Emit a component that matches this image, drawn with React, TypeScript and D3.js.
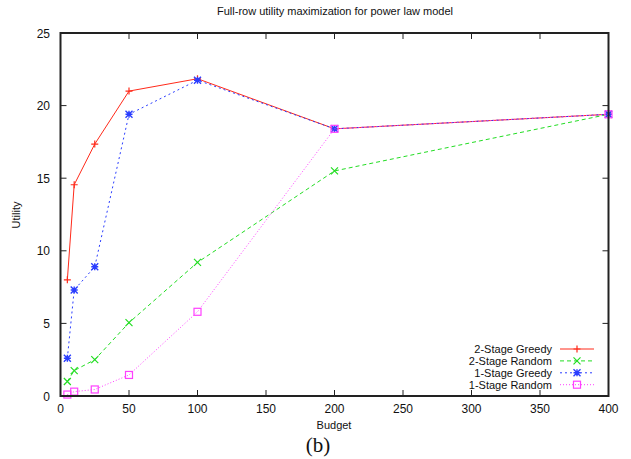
import React from "react";
import * as d3 from "d3";

const budgets = [5, 10, 25, 50, 100, 200, 400];
const greedy2 = [8.0, 14.55, 17.35, 21.0, 21.85, 18.4, 19.4];
const random2 = [1.0, 1.75, 2.5, 5.05, 9.2, 15.5, 19.4];
const greedy1 = [2.6, 7.3, 8.9, 19.4, 21.75, 18.4, 19.4];
const random1 = [0.1, 0.3, 0.45, 1.45, 5.8, 18.4, 19.4];
const seriesNames = ["2-Stage Greedy", "2-Stage Random", "1-Stage Greedy", "1-Stage Random"];
const xTicks = [0, 50, 100, 150, 200, 250, 300, 350, 400];
const yTicks = [0, 5, 10, 15, 20, 25];

const W = 631, H = 459;
const L = 60.5, R = 608.5, T = 33, B = 396;
const font = "'Liberation Sans', Arial, Helvetica, sans-serif";

type Marker = "plus" | "cross" | "star" | "square";

function MarkerShape({ type, x, y, color }: { type: Marker; x: number; y: number; color: string }) {
  const s = 3.5;
  const plus = `M${x - s},${y}H${x + s}M${x},${y - s}V${y + s}`;
  const cross = `M${x - s},${y - s}L${x + s},${y + s}M${x - s},${y + s}L${x + s},${y - s}`;
  if (type === "plus") return <path d={plus} stroke={color} strokeWidth={1.2} fill="none" />;
  if (type === "cross") return <path d={cross} stroke={color} strokeWidth={1.2} fill="none" />;
  if (type === "star") return <path d={plus + cross} stroke={color} strokeWidth={1.4} fill="none" />;
  return <rect x={x - s} y={y - s} width={2 * s} height={2 * s} stroke={color} strokeWidth={1.2} fill="none" />;
}

export default function App() {
  const x = d3.scaleLinear().domain([0, 400]).range([L, R]);
  const y = d3.scaleLinear().domain([0, 25]).range([B, T]);
  const series = [
    { name: seriesNames[0], vals: greedy2, color: "#ff2a1a", dash: "", marker: "plus" as Marker },
    { name: seriesNames[1], vals: random2, color: "#22dd22", dash: "4,3", marker: "cross" as Marker },
    { name: seriesNames[2], vals: greedy1, color: "#2a3dff", dash: "2,3", marker: "star" as Marker },
    { name: seriesNames[3], vals: random1, color: "#ff40ff", dash: "1,2", marker: "square" as Marker },
  ];
  const line = d3.line<number>().x((_, i) => x(budgets[i])).y((v) => y(v));
  const tickLen = 6;
  return (
    <svg width={W} height={H} style={{ position: "absolute", left: 0, top: 0 }} fontFamily={font}>
      <rect width={W} height={H} fill="#fff" />
      <text x={335} y={15} fontSize={11} textAnchor="middle" fill="#111">
        Full-row utility maximization for power law model
      </text>
      {xTicks.map((t) => (
        <g key={"x" + t}>
          <line x1={x(t)} x2={x(t)} y1={B} y2={B - tickLen} stroke="#222" strokeWidth={1} />
          <line x1={x(t)} x2={x(t)} y1={T} y2={T + tickLen} stroke="#222" strokeWidth={1} />
          <text x={x(t)} y={413} fontSize={12} textAnchor="middle" fill="#111">{t}</text>
        </g>
      ))}
      {yTicks.map((t) => (
        <g key={"y" + t}>
          <line x1={L} x2={L + tickLen} y1={y(t)} y2={y(t)} stroke="#222" strokeWidth={1} />
          <line x1={R} x2={R - tickLen} y1={y(t)} y2={y(t)} stroke="#222" strokeWidth={1} />
          <text x={50} y={y(t) + 4.5} fontSize={12} textAnchor="end" fill="#111">{t}</text>
        </g>
      ))}
      {series.map((s) => (
        <g key={s.name}>
          <path d={line(s.vals) || ""} fill="none" stroke={s.color} strokeWidth={1} strokeDasharray={s.dash} />
          {s.vals.map((v, i) => (
            <MarkerShape key={i} type={s.marker} x={x(budgets[i])} y={y(v)} color={s.color} />
          ))}
        </g>
      ))}
      <rect x={L} y={T} width={R - L} height={B - T} fill="none" stroke="#222" strokeWidth={2} />
      {series.map((s, i) => {
        const ly = 349 + i * 11.9;
        return (
          <g key={"lg" + s.name}>
            <text x={552} y={ly + 4} fontSize={11} textAnchor="end" fill="#111">{s.name}</text>
            <line x1={560} x2={594} y1={ly} y2={ly} stroke={s.color} strokeWidth={1} strokeDasharray={s.dash} />
            <MarkerShape type={s.marker} x={577} y={ly} color={s.color} />
          </g>
        );
      })}
      <text x={334} y={429} fontSize={11} textAnchor="middle" fill="#111">Budget</text>
      <text transform={`translate(20,215) rotate(-90)`} fontSize={11} textAnchor="middle" fill="#111">Utility</text>
      <text x={318} y={452} fontSize={21} textAnchor="middle" fill="#111" fontFamily="'Liberation Serif', 'DejaVu Serif', serif">(b)</text>
    </svg>
  );
}
